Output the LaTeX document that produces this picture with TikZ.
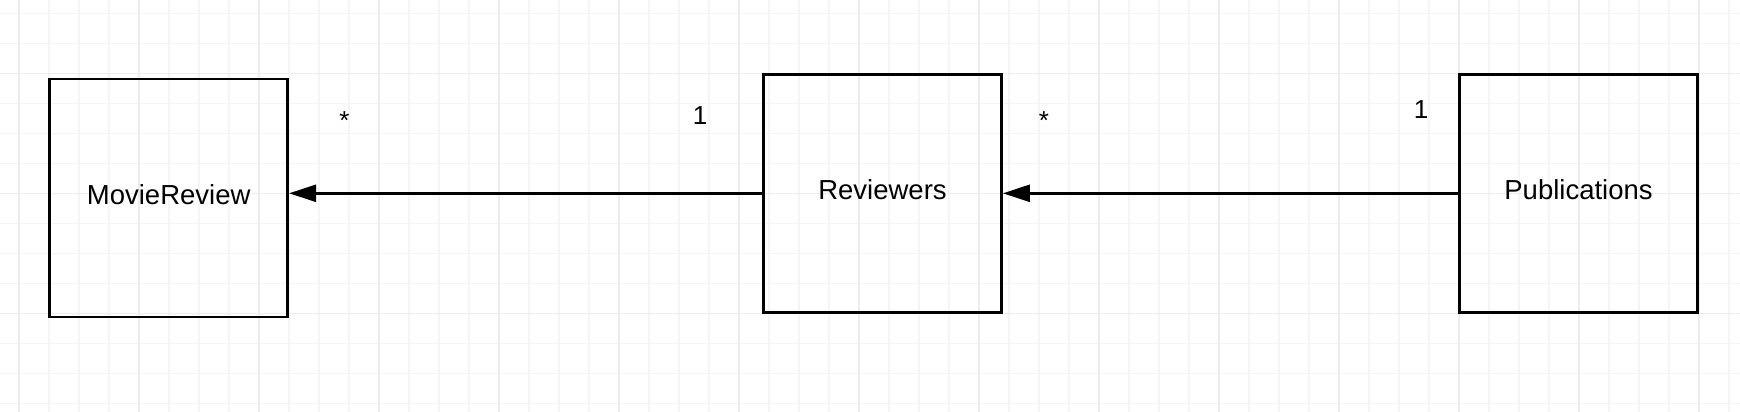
\documentclass[tikz,border=0pt]{standalone}
\usepackage{fontspec}
\setmainfont{Liberation Sans}
\usetikzlibrary{arrows.meta}
\begin{document}
\begin{tikzpicture}[x=1pt,y=-1pt,
    classbox/.style={draw,line width=2.8pt,minimum width=238pt,minimum height=238pt,inner sep=0pt,text depth=7pt,font=\fontsize{27.5}{32}\selectfont},
    mult/.style={anchor=base,font=\fontsize{26}{31}\selectfont},
    assoc/.style={line width=2.4pt,-{Triangle[length=27pt,width=17pt]}}]
    \useasboundingbox (0,0) rectangle (1740,412);
    \fill[white] (0,0) rectangle (1740,412);
    % grid
    \foreach \x in {19,49,...,1729} \draw[black!4,line width=1.2pt] (\x,0)--(\x,412);
    \foreach \y in {13.3,43.3,...,403.3} \draw[black!4,line width=1.2pt] (0,\y)--(1740,\y);
    \foreach \x in {19,139,...,1699} \draw[black!7,line width=1.2pt] (\x,0)--(\x,412);
    \foreach \y in {73.3,193.3,313.3} \draw[black!7,line width=1.2pt] (0,\y)--(1740,\y);
    % classes
    \node[classbox] (movieReview) at (168.7,198) {MovieReview};
    \node[classbox] (reviewers) at (882.5,193.3) {Reviewers};
    \node[classbox] (publications) at (1578.5,193.3) {Publications};
    % associations
    \draw[assoc] (reviewers.west) -- (reviewers.west -| movieReview.east);
    \draw[assoc] (publications.west) -- (publications.west -| reviewers.east);
    \node[mult] (starReview) at (344.5,129) {*};
    \node[mult] (oneReviewer) at (700,124) {1};
    \node[mult] (starReviewer) at (1044,129) {*};
    \node[mult] (onePublication) at (1421,118) {1};
\end{tikzpicture}
\end{document}
